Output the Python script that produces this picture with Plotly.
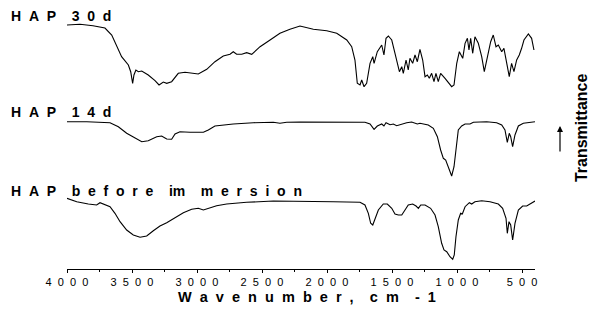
import plotly.graph_objects as go

# Wavenumber (cm-1) and transmittance (arbitrary units, offset-stacked)
wn_30d = [4000, 3900, 3800, 3708, 3656, 3618, 3580, 3528, 3510, 3495, 3485, 3470, 3451, 3425, 3375, 3323,
          3292, 3259, 3233, 3195, 3144, 3092, 3028, 2990, 2925, 2862, 2798, 2746, 2721, 2695, 2656, 2618,
          2579, 2515, 2438, 2362, 2285, 2208, 2105, 2002, 1925, 1848, 1810, 1785, 1767, 1746, 1733, 1715,
          1695, 1669, 1648, 1638, 1613, 1579, 1562, 1546, 1528, 1502, 1477, 1443, 1425, 1413, 1392, 1375,
          1362, 1341, 1323, 1305, 1285, 1264, 1246, 1228, 1213, 1195, 1177, 1162, 1144, 1126, 1092, 1041,
          1023, 1002, 982, 956, 938, 920, 908, 895, 879, 862, 836, 810, 790, 767, 741, 721, 700, 682,
          656, 639, 618, 598, 580, 562, 541, 521, 503, 485, 451, 426, 408]
t_30d = [244.0, 244.7, 243.3, 241.0, 234.0, 222.3, 212.3, 204.0, 197.3, 185.7, 194.0, 199.0, 197.3, 198.0,
         194.0, 188.3, 184.0, 187.0, 185.7, 187.3, 195.7, 196.7, 195.7, 195.0, 199.7, 207.3, 213.0, 214.7,
         217.3, 214.7, 214.7, 216.3, 214.7, 222.3, 229.0, 235.7, 239.7, 243.0, 239.7, 238.3, 235.7, 229.0,
         222.3, 209.0, 185.7, 184.0, 189.0, 182.3, 185.7, 205.7, 212.3, 205.7, 217.3, 224.0, 214.0, 230.7,
         233.0, 229.0, 215.7, 197.3, 202.3, 195.7, 209.0, 199.0, 210.7, 205.7, 214.0, 207.3, 219.7, 209.0,
         192.3, 194.0, 190.7, 195.7, 187.3, 195.7, 187.3, 195.7, 190.7, 182.3, 184.0, 205.7, 217.3, 210.7,
         225.7, 230.7, 219.0, 230.7, 215.7, 232.3, 225.7, 212.3, 197.3, 212.3, 227.3, 234.0, 222.3, 224.0,
         217.3, 220.7, 205.7, 192.3, 205.7, 197.3, 209.0, 214.0, 220.7, 229.0, 235.0, 230.7, 219.0]

wn_14d = [4000, 3848, 3669, 3605, 3541, 3477, 3425, 3375, 3310, 3272, 3233, 3195, 3169, 3131, 3054, 2951,
          2913, 2862, 2721, 2567, 2413, 2362, 2310, 2208, 1951, 1708, 1669, 1638, 1613, 1579, 1562, 1546,
          1515, 1490, 1464, 1425, 1387, 1349, 1305, 1285, 1221, 1182, 1151, 1126, 1105, 1087, 1062, 1041,
          1023, 1008, 990, 964, 938, 900, 874, 772, 695, 656, 631, 613, 598, 587, 572, 554, 528, 490,
          438, 400]
t_14d = [147.3, 147.3, 146.3, 142.3, 135.7, 130.7, 127.3, 128.3, 132.3, 133.0, 130.0, 129.7, 135.0, 137.3,
         136.7, 136.7, 139.0, 143.0, 145.0, 146.3, 146.7, 145.7, 146.7, 147.0, 147.0, 146.7, 145.0, 139.7,
         143.0, 145.0, 143.0, 146.3, 144.3, 145.0, 143.3, 145.0, 146.3, 147.0, 145.0, 145.7, 144.0, 140.7,
         132.3, 119.0, 110.7, 109.0, 99.7, 93.0, 102.3, 122.3, 139.0, 143.0, 145.0, 145.0, 146.7, 147.3,
         146.3, 144.0, 139.0, 126.7, 135.7, 132.3, 122.3, 134.0, 143.0, 145.7, 146.7, 147.3]

wn_before = [4000, 3925, 3836, 3772, 3746, 3720, 3669, 3631, 3592, 3541, 3490, 3438, 3387, 3336, 3285, 3233,
             3169, 3105, 3041, 2990, 2951, 2913, 2849, 2772, 2618, 2413, 2208, 1951, 1746, 1708, 1682, 1664,
             1648, 1631, 1605, 1567, 1536, 1502, 1477, 1451, 1425, 1400, 1375, 1341, 1315, 1297, 1279, 1246,
             1203, 1169, 1144, 1118, 1100, 1079, 1054, 1033, 1021, 1008, 990, 972, 959, 938, 905, 887, 862,
             810, 746, 682, 649, 623, 613, 600, 587, 572, 554, 528, 495, 464, 426, 400]
t_before = [70.7, 67.3, 65.0, 64.0, 66.3, 64.7, 62.3, 55.7, 47.3, 39.0, 34.0, 31.7, 33.0, 38.3, 43.0, 46.3,
            51.7, 56.3, 59.7, 60.7, 59.0, 60.7, 63.3, 65.0, 66.7, 68.0, 68.0, 67.3, 66.7, 64.0, 55.7, 45.7,
            44.0, 50.7, 59.0, 65.0, 65.0, 60.7, 55.0, 54.0, 54.0, 59.0, 64.0, 65.0, 63.0, 60.7, 64.0, 64.0,
            60.7, 54.0, 42.3, 25.7, 19.0, 17.3, 12.3, 9.7, 14.0, 32.3, 49.0, 55.7, 55.0, 62.3, 66.3, 65.0,
            67.3, 68.3, 67.3, 65.0, 60.7, 50.7, 35.7, 47.3, 44.0, 29.0, 45.7, 59.0, 63.0, 63.0, 66.3, 68.0]

tick_vals = [4000, 3500, 3000, 2500, 2000, 1500, 1000, 500]
tick_text = ["\u00a0\u00a0".join(str(v)) for v in tick_vals]

labels = ["H A P  3 0 d", "H A P  1 4 d", "H A P  b e f o r e  im  m e r s i o n"]

fig = go.Figure()
for wn, t in [(wn_30d, t_30d), (wn_14d, t_14d), (wn_before, t_before)]:
    fig.add_trace(go.Scatter(x=wn, y=t, mode="lines", line=dict(color="black", width=1.1),
                             showlegend=False, hoverinfo="skip"))

font_b = dict(family="Liberation Sans, Arial, sans-serif", color="black")

def spaced(s):
    return s.replace(" ", "\u00a0\u00a0")

for lbl, yp in zip(labels, [0.975, 0.606, 0.301]):
    fig.add_annotation(text="<b>" + spaced(lbl) + "</b>", xref="paper", yref="paper", x=-0.124, y=yp,
                       xanchor="left", yanchor="middle", showarrow=False, font=dict(size=14, **font_b))

fig.add_annotation(text="<b>" + spaced("W a v e n u m b e r ,  c m  - 1") + "</b>", xref="paper", yref="paper",
                   x=0.513, y=-0.108, xanchor="center", yanchor="middle", showarrow=False,
                   font=dict(size=14.5, **font_b))

fig.add_annotation(text="<b>Transmittance</b>", xref="paper", yref="paper", x=(581 - 67) / 468, y=0.544,
                   xanchor="center", yanchor="middle", textangle=-90, showarrow=False,
                   font=dict(size=16, **font_b))

fig.add_annotation(text="", xref="paper", yref="paper", x=(560 - 67) / 468, y=(269 - 126) / 259,
                   ax=0, ay=27, axref="pixel", ayref="pixel", showarrow=True, arrowhead=2,
                   arrowsize=1, arrowwidth=1.2, arrowcolor="black")

fig.update_layout(
    width=592, height=311,
    margin=dict(l=67, r=57, t=10, b=42, autoexpand=False),
    paper_bgcolor="white", plot_bgcolor="white",
    xaxis=dict(range=[4000, 400], autorange=False, tickvals=tick_vals, ticktext=tick_text,
               automargin=False,
               showline=True, linecolor="black", linewidth=1, ticks="outside", ticklen=3,
               tickcolor="black", showgrid=False, zeroline=False,
               minor=dict(ticks="outside", ticklen=2, dtick=250, tickcolor="black"),
               tickfont=dict(family="Liberation Sans, Arial, sans-serif", size=11, color="black")),
    yaxis=dict(range=[0, 259], visible=False, showgrid=False, zeroline=False, automargin=False),
)

fig.write_html("out.html", config={"displayModeBar": False, "staticPlot": True},
               post_script="document.body.style.margin='0';document.body.style.overflow='hidden';")
